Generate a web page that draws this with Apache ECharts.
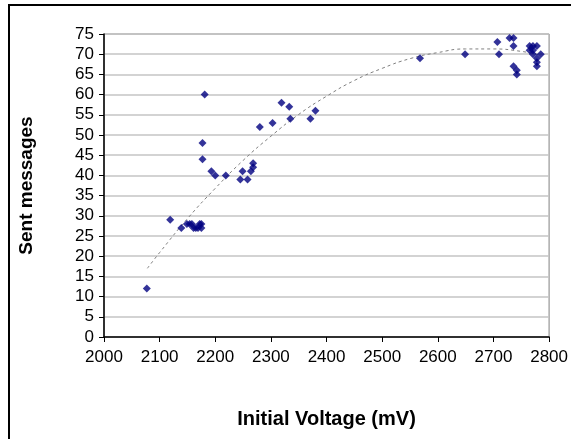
<!DOCTYPE html>
<html>
<head>
<meta charset="utf-8">
<script src="https://cdn.jsdelivr.net/npm/echarts@6/dist/echarts.min.js"></script>
<style>
html,body{margin:0;padding:0;background:#fff;}
#chart{width:571px;height:439px;}
</style>
</head>
<body>
<div id="chart"></div>
<script>
// Measured points: initial voltage (mV) and sent messages
const voltage = [2077, 2119, 2139, 2149, 2154, 2158, 2172, 2175, 2161, 2165, 2169, 2175,
  2177, 2177, 2181, 2193, 2200, 2219, 2245, 2249, 2258, 2264, 2268, 2268,
  2280, 2303, 2319, 2333, 2335, 2371, 2380, 2568, 2649, 2707, 2710, 2729,
  2736, 2736, 2736, 2742, 2742, 2765, 2771, 2778, 2765, 2771, 2771, 2778,
  2778, 2778, 2785];
const sentMessages = [12, 29, 27, 28, 28, 28, 28, 28, 27, 27, 27, 27,
  48, 44, 60, 41, 40, 40, 39, 41, 39, 41, 42, 43,
  52, 53, 58, 57, 54, 54, 56, 69, 70, 73, 70, 74,
  74, 72, 67, 66, 65, 72, 72, 72, 71, 71, 70, 69,
  68, 67, 70];
// Trendline
const trendX = [2078, 2100, 2150, 2200, 2250, 2300, 2350, 2400, 2450, 2500, 2550, 2600, 2650, 2700, 2750, 2780];
const trendY = [17.0, 20.9, 29.3, 36.8, 43.7, 49.7, 55.1, 59.6, 63.5, 66.5, 68.9, 70.4, 71.3, 71.3, 70.7, 69.9];
const xTitle = 'Initial Voltage (mV)';
const yTitle = 'Sent messages';

const points = voltage.map((v, i) => [v, sentMessages[i]]);
const trend = trendX.map((v, i) => [v, trendY[i]]);

const chart = echarts.init(document.getElementById('chart'), null, {renderer: 'canvas'});
const font = 'Liberation Sans, Arial, sans-serif';
chart.setOption({
  animation: false,
  backgroundColor: '#fff',
  grid: {left: 104, right: 21, top: 34, bottom: 102, show: true, borderColor: '#808080', borderWidth: 1},
  xAxis: {
    type: 'value', min: 2000, max: 2800, interval: 100,
    name: xTitle, nameLocation: 'middle', nameGap: 72,
    nameTextStyle: {fontFamily: font, fontWeight: 'bold', fontSize: 20, color: '#000'},
    axisLine: {show: true, onZero: false, lineStyle: {color: '#000', width: 1.5}},
    axisTick: {show: true, length: 5, lineStyle: {color: '#000'}},
    axisLabel: {fontFamily: font, fontSize: 17, color: '#000', margin: 12, formatter: v => String(v)},
    splitLine: {show: false}
  },
  yAxis: {
    type: 'value', min: 0, max: 75, interval: 5,
    name: yTitle, nameLocation: 'middle', nameGap: 68, nameRotate: 90,
    nameTextStyle: {fontFamily: font, fontWeight: 'bold', fontSize: 19, color: '#000'},
    axisLine: {show: true, onZero: false, lineStyle: {color: '#000', width: 1.5}},
    axisTick: {show: true, length: 5, lineStyle: {color: '#000'}},
    axisLabel: {fontFamily: font, fontSize: 17, color: '#000', margin: 10},
    splitLine: {show: true, lineStyle: {color: '#c4c4c4', width: 1.5}}
  },
  series: [
    {
      type: 'line', data: trend, smooth: true, showSymbol: false, silent: true,
      lineStyle: {color: '#808080', width: 1, type: [3, 3]}, z: 2
    },
    {
      type: 'scatter', data: points, symbol: 'diamond', symbolSize: 8,
      itemStyle: {color: '#000080'}, z: 3
    }
  ],
  graphic: [{
    type: 'polyline', silent: true,
    shape: {points: [[9, 439], [9, 5], [571, 5]]},
    style: {stroke: '#000', lineWidth: 2, fill: null}
  }]
});
</script>
</body>
</html>
